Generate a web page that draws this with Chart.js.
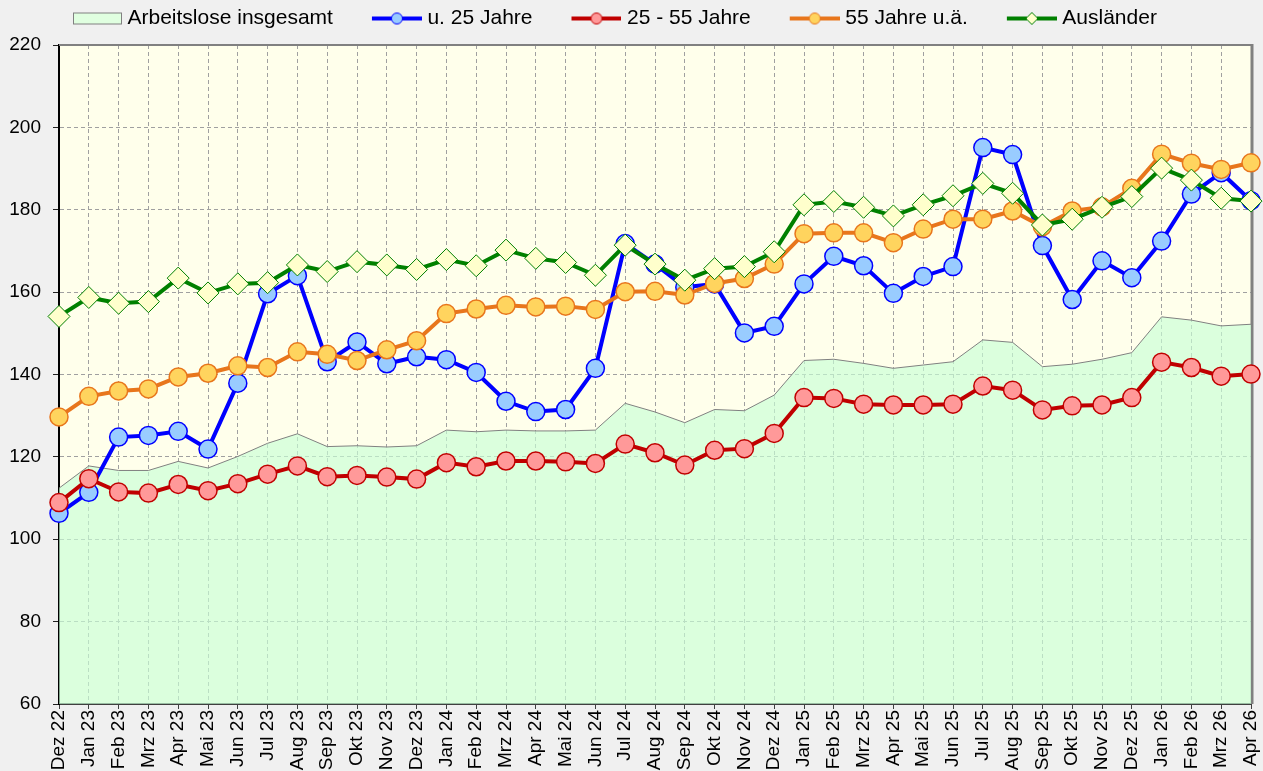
<!DOCTYPE html>
<html>
<head>
<meta charset="utf-8">
<script src="https://cdn.jsdelivr.net/npm/chart.js@4.4.1/dist/chart.umd.min.js"></script>
<style>
    html, body { margin: 0; padding: 0; background: #f0f0f0; }
    canvas { display: block; }
</style>
</head>
<body>
<canvas id="chart" width="1263" height="771"></canvas>
<script>
const months = ['Dez 22', 'Jan 23', 'Feb 23', 'Mrz 23', 'Apr 23', 'Mai 23', 'Jun 23', 'Jul 23', 'Aug 23', 'Sep 23', 'Okt 23', 'Nov 23',
                'Dez 23', 'Jan 24', 'Feb 24', 'Mrz 24', 'Apr 24', 'Mai 24', 'Jun 24', 'Jul 24', 'Aug 24', 'Sep 24', 'Okt 24', 'Nov 24',
                'Dez 24', 'Jan 25', 'Feb 25', 'Mrz 25', 'Apr 25', 'Mai 25', 'Jun 25', 'Jul 25', 'Aug 25', 'Sep 25', 'Okt 25', 'Nov 25',
                'Dez 25', 'Jan 26', 'Feb 26', 'Mrz 26', 'Apr 26'];

const insgesamt = [112.4, 117.8, 116.7, 116.7, 118.9, 117.3, 120.1, 123.3, 125.6, 122.5, 122.7, 122.4,
                   122.7, 126.5, 126.1, 126.5, 126.3, 126.3, 126.5, 133.0, 130.9, 128.3, 131.5, 131.2,
                   135.0, 143.4, 143.7, 142.7, 141.5, 142.3, 143.1, 148.4, 147.8, 141.9, 142.5, 143.7,
                   145.3, 154.0, 153.2, 151.8, 152.2];
const unter25 = [106.3, 111.4, 124.8, 125.2, 126.2, 121.9, 137.9, 159.6, 164.0, 143.1, 147.9, 142.6,
                 144.3, 143.6, 140.5, 133.5, 131.0, 131.5, 141.5, 171.8, 166.8, 161.2, 162.0, 150.1,
                 151.7, 162.0, 168.7, 166.4, 159.7, 163.8, 166.2, 195.1, 193.4, 171.3, 158.2, 167.6,
                 163.5, 172.4, 183.8, 189.0, 182.2];
const mitte25bis55 = [108.9, 114.7, 111.5, 111.2, 113.3, 111.8, 113.5, 115.8, 117.8, 115.2, 115.5, 115.1,
                      114.6, 118.6, 117.6, 119.0, 119.0, 118.8, 118.4, 123.1, 121.0, 118.0, 121.6, 122.0,
                      125.7, 134.4, 134.2, 132.8, 132.6, 132.6, 132.8, 137.2, 136.2, 131.4, 132.4, 132.6,
                      134.4, 143.0, 141.7, 139.6, 140.1];
const ab55 = [129.7, 134.7, 136.0, 136.5, 139.4, 140.3, 142.1, 141.7, 145.5, 144.9, 143.4, 146.0,
              148.2, 154.8, 155.9, 156.8, 156.4, 156.6, 155.8, 160.1, 160.2, 159.3, 162.1, 163.3,
              166.8, 174.2, 174.4, 174.4, 172.0, 175.3, 177.7, 177.7, 179.7, 175.9, 179.7, 180.7,
              185.2, 193.5, 191.3, 189.8, 191.4];
const auslaender = [154.1, 158.7, 157.3, 157.7, 163.4, 159.8, 162.0, 162.3, 166.6, 165.0, 167.4, 166.6,
                    165.5, 167.9, 166.4, 170.2, 168.2, 167.2, 164.1, 171.4, 166.8, 162.9, 165.7, 166.2,
                    169.8, 181.2, 182.0, 180.6, 178.5, 181.2, 183.4, 186.4, 184.0, 176.3, 177.7, 180.6,
                    183.2, 190.1, 187.2, 182.8, 182.1];

const fontFamily = '"Liberation Sans", Arial, sans-serif';

// legend icons: line with marker (or filled box), drawn right-aligned in a wider canvas
function makeIcon(kind, lineColor, fillColor) {
    const c = document.createElement('canvas');
    c.width = 88;
    c.height = 16;
    const g = c.getContext('2d');
    if (kind === 'box') {
        g.fillStyle = fillColor;
        g.fillRect(39.5, 2.5, 48, 11);
        g.strokeStyle = '#808080';
        g.lineWidth = 1;
        g.strokeRect(39.5, 2.5, 48, 11);
        return c;
    }
    g.strokeStyle = lineColor;
    g.lineWidth = 4;
    g.beginPath();
    g.moveTo(38, 8);
    g.lineTo(88, 8);
    g.stroke();
    g.fillStyle = fillColor;
    g.lineWidth = 1;
    g.beginPath();
    if (kind === 'diamond') {
        g.moveTo(57, 8); g.lineTo(63, 2); g.lineTo(69, 8); g.lineTo(63, 14); g.closePath();
    } else {
        g.arc(63, 8, 5.5, 0, Math.PI * 2);
    }
    g.fill();
    g.stroke();
    return c;
}

const legendIcons = [
    makeIcon('box', '#808080', '#e0ffe0'),
    makeIcon('circle', '#0000ff', '#99ccff'),
    makeIcon('circle', '#c00000', '#ff9999'),
    makeIcon('circle', '#e8761c', '#ffd45e'),
    makeIcon('diamond', '#008000', '#ffffcc')
];

const plotBackground = {
    id: 'plotBackground',
    beforeDraw(chart) {
        const {ctx, chartArea: a} = chart;
        ctx.save();
        ctx.fillStyle = '#f0f0f0';
        ctx.fillRect(0, 0, chart.width, chart.height);
        ctx.fillStyle = '#ffffeb';
        ctx.fillRect(a.left, a.top, a.right - a.left, a.bottom - a.top);
        ctx.restore();
    },
    beforeDatasetsDraw(chart) {
        const {ctx, chartArea: a} = chart;
        ctx.save();
        ctx.strokeStyle = '#808080';
        ctx.lineWidth = 2;
        ctx.beginPath();
        ctx.moveTo(a.left, a.top);
        ctx.lineTo(a.right, a.top);
        ctx.stroke();
        ctx.lineWidth = 3;
        ctx.beginPath();
        ctx.moveTo(a.right + 1, a.top - 1);
        ctx.lineTo(a.right + 1, a.bottom);
        ctx.stroke();
        ctx.restore();
    }
};

// fixed legend height, and legend row shifted to start where the reference's does
const legendPlacement = {
    id: 'legendPlacement',
    beforeInit(chart) {
        const legend = chart.legend;
        const fit = legend.fit;
        legend.fit = function() {
            fit.call(this);
            this.height = 45;
        };
        const draw = legend.draw;
        legend.draw = function(area) {
            this.ctx.save();
            this.ctx.translate(33, 2);
            draw.call(this, area);
            this.ctx.restore();
        };
    }
};

function lineSet(label, data, line, fill, style, radius, order) {
    return {
        label: label, data: data, order: order,
        borderColor: line, borderWidth: 4,
        pointStyle: style, pointRadius: radius, pointBackgroundColor: fill,
        pointBorderColor: line, pointBorderWidth: style === 'rectRot' ? 1 : 1.5,
        fill: false, tension: 0, clip: false
    };
}

new Chart(document.getElementById('chart'), {
    type: 'line',
    data: {
        labels: months,
        datasets: [
            {label: 'Arbeitslose insgesamt', data: insgesamt, order: 5, borderColor: '#808080', borderWidth: 1,
             backgroundColor: 'rgba(200, 255, 214, 0.65)', fill: 'start', pointRadius: 0, tension: 0},
            lineSet('u. 25 Jahre', unter25, '#0000ff', '#99ccff', 'circle', 9, 4),
            lineSet('25 - 55 Jahre', mitte25bis55, '#c00000', '#ff9999', 'circle', 9, 3),
            lineSet('55 Jahre u.ä.', ab55, '#e8761c', '#ffd45e', 'circle', 9, 2),
            lineSet('Ausländer', auslaender, '#008000', '#ffffcc', 'rectRot', 11, 1)
        ]
    },
    options: {
        responsive: false,
        animation: false,
        layout: {padding: {left: 0, right: 10, top: 0, bottom: 0}},
        scales: {
            x: {
                offset: false,
                grid: {color: '#a0a0a0', tickColor: '#404040', tickLength: 5, tickBorderDash: []},
                border: {color: '#404040', width: 2, dash: [4, 3]},
                ticks: {color: '#000', autoSkip: false, minRotation: 90, maxRotation: 90, padding: 1,
                        font: {family: fontFamily, size: 19, lineHeight: 1}},
                afterFit(scale) {
                    scale.height = 67;
                    scale.paddingLeft = 0;
                    scale.paddingRight = 0;
                }
            },
            y: {
                min: 60, max: 220,
                grid: {color: '#a0a0a0', tickColor: '#202020', tickLength: 6, tickBorderDash: []},
                border: {color: '#000', width: 2, dash: [4, 3]},
                ticks: {stepSize: 20, color: '#000', padding: 12, font: {family: fontFamily, size: 19}},
                afterFit(scale) {
                    scale.width = 59;
                }
            }
        },
        plugins: {
            tooltip: {enabled: false},
            legend: {
                position: 'top',
                align: 'start',
                labels: {
                    usePointStyle: true,
                    pointStyleWidth: 78,
                    padding: 6,
                    color: '#000',
                    font: {family: fontFamily, size: 21},
                    generateLabels(chart) {
                        return chart.data.datasets.map((ds, i) => ({
                            text: ds.label, pointStyle: legendIcons[i], datasetIndex: i, hidden: false,
                            fillStyle: 'transparent', strokeStyle: 'transparent', lineWidth: 0, fontColor: '#000'
                        }));
                    }
                }
            }
        }
    },
    plugins: [plotBackground, legendPlacement]
});
</script>
</body>
</html>
